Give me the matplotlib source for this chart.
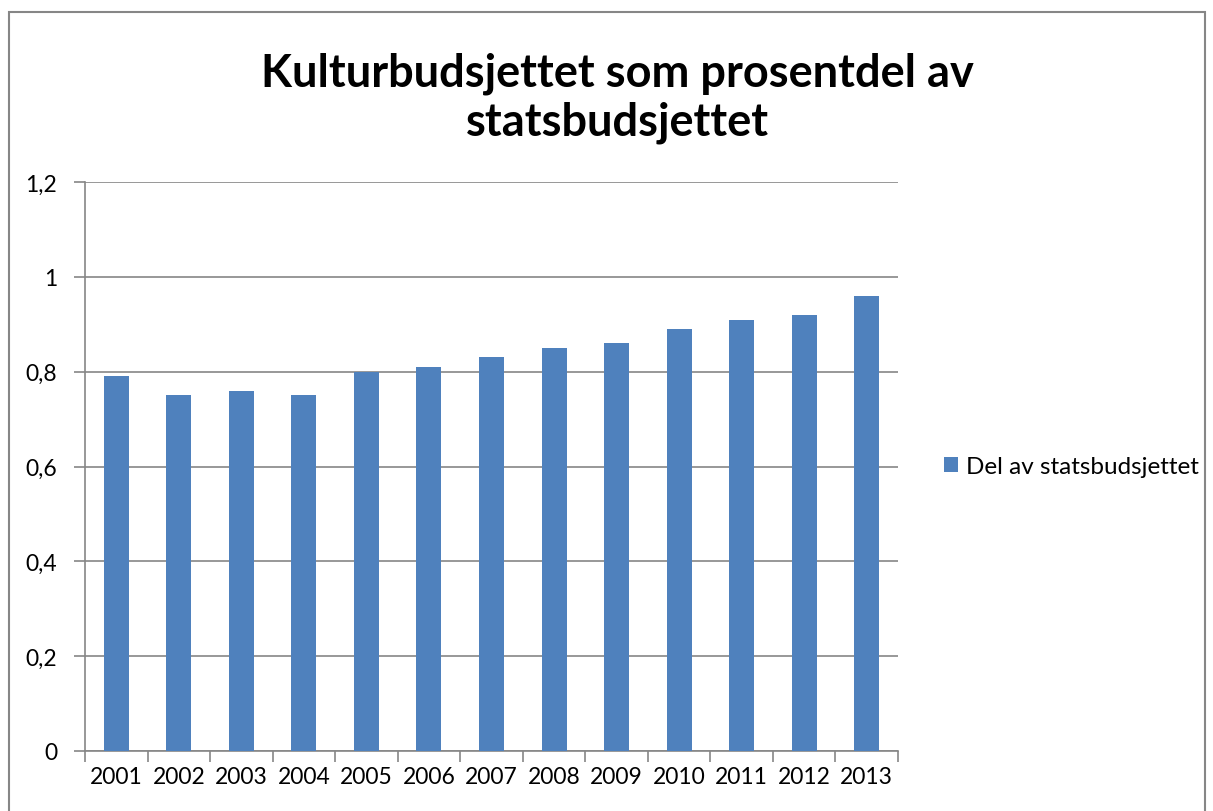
import matplotlib
matplotlib.use("Agg")
import matplotlib.pyplot as plt
from matplotlib.patches import Rectangle
import numpy as np

# data
years = ["2001", "2002", "2003", "2004", "2005", "2006", "2007",
         "2008", "2009", "2010", "2011", "2012", "2013"]
andel = [0.79, 0.75, 0.76, 0.75, 0.80, 0.81, 0.83,
         0.85, 0.86, 0.89, 0.91, 0.92, 0.96]
yticks = [0, 0.2, 0.4, 0.6, 0.8, 1.0, 1.2]
ylabels = ["0", "0,2", "0,4", "0,6", "0,8", "1", "1,2"]

plt.rcParams['font.family'] = ['Lato', 'DejaVu Sans']
blue = "#4f81bd"
grey = "#868686"

fig = plt.figure(figsize=(12.13, 8.12), dpi=100)
ax = fig.add_axes([0.0701, 0.0739, 0.6702, 0.7007])

x = np.arange(len(years))
ax.bar(x, andel, width=0.4, color=blue, zorder=3, label="Del av statsbudsjettet")

ax.set_xlim(-0.5, len(years) - 0.5)
ax.set_ylim(0, 1.2)
ax.set_yticks(yticks)
ax.set_yticklabels(ylabels, fontsize=16.5)
ax.grid(axis='y', color=grey, linewidth=1.2, zorder=0)

# category ticks sit between bars
ax.set_xticks(np.arange(-0.5, len(years), 1.0))
ax.set_xticklabels([])
ax.set_xticks(x, minor=True)
ax.set_xticklabels(years, minor=True, fontsize=16.5)
ax.tick_params(axis='x', which='major', length=8, color=grey, width=1.2)
ax.tick_params(axis='x', which='minor', length=0, pad=11)
ax.tick_params(axis='y', length=8, color=grey, width=1.2, pad=12)

for s in ['top', 'right']:
    ax.spines[s].set_visible(False)
for s in ['left', 'bottom']:
    ax.spines[s].set_color(grey)
    ax.spines[s].set_linewidth(1.2)

fig.text(0.509, 0.879, "Kulturbudsjettet som prosentdel av\nstatsbudsjettet",
         ha='center', va='center', fontsize=32.5, fontweight='bold',
         linespacing=1.17)

ax.legend(loc='center left', bbox_to_anchor=(1.03, 0.5), frameon=False,
          fontsize=17.5, handlelength=0.55, handleheight=0.55, handletextpad=0.35)

# outer chart frame
fig.add_artist(Rectangle((9 / 1213, -0.01), (1205 - 9) / 1213, 1 - 13 / 812 + 0.01,
                         transform=fig.transFigure, fill=False,
                         edgecolor=grey, linewidth=1.5))

fig.savefig("out.png", dpi=100)
